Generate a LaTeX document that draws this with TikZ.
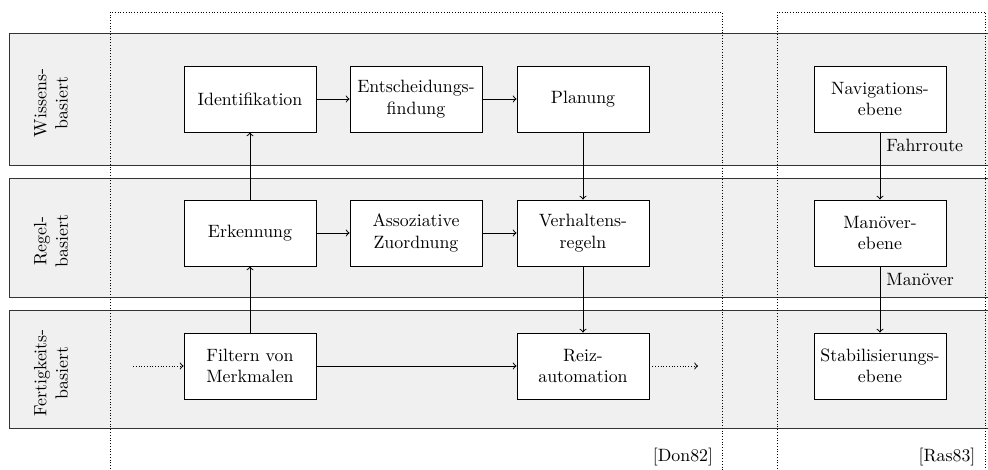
\documentclass[tikz,border=0pt]{standalone}
\begin{document}
\begin{tikzpicture}[x=0.5606pt,y=-0.5606pt,
  band/.style={fill=black!6,draw=black!80,line width=0.5pt},
  block/.style={draw,fill=white,line width=0.55pt,minimum width=74pt,minimum height=37pt,align=center,inner sep=2pt},
  flow/.style={->,line width=0.55pt},
  frame/.style={densely dotted,line width=0.55pt},
  lanelabel/.style={rotate=90,align=center},
  edgelabel/.style={anchor=north west,pos=0}]
\useasboundingbox (0,0) rectangle (988,470);
\clip (0,0) rectangle (988,470);

% behaviour levels
\draw[band] (9,33) rectangle (1000,165);
\draw[band] (9,178) rectangle (1000,297);
\draw[band] (9,310) rectangle (1000,428);
\node[lanelabel] (lk) at (51,103) {Wissens-\\basiert};
\node[lanelabel] (lr) at (51,241) {Regel-\\basiert};
\node[lanelabel] (lf) at (51,373) {Fertigkeits-\\basiert};

% model frames
\draw[frame] (110,480) -- (110,12) -- (722,12) -- (722,480);
\draw[frame] (777,480) -- (777,12) -- (985,12) -- (985,480);
\node (don) at (683,457) {[Don82]};
\node (ras) at (947,457) {[Ras83]};

% Rasmussen model
\node[block] (ident) at (250,99) {Identifikation};
\node[block] (ents) at (416,99) {Entscheidungs-\\findung};
\node[block] (plan) at (583,99) {Planung};
\node[block] (erk) at (250,233) {Erkennung};
\node[block] (asso) at (416,233) {Assoziative\\Zuordnung};
\node[block] (verh) at (583,233) {Verhaltens-\\regeln};
\node[block] (filt) at (250,366) {Filtern von\\Merkmalen};
\node[block] (reiz) at (583,366) {Reiz-\\automation};
\coordinate (inL) at (133,366);
\coordinate (outR) at (698,366);

\draw[flow] (filt) -- (erk);
\draw[flow] (erk) -- (ident);
\draw[flow] (ident) -- (ents);
\draw[flow] (ents) -- (plan);
\draw[flow] (plan) -- (verh);
\draw[flow] (erk) -- (asso);
\draw[flow] (asso) -- (verh);
\draw[flow] (verh) -- (reiz);
\draw[flow] (filt) -- (reiz);
\draw[flow,densely dotted] (inL) -- (filt);
\draw[flow,densely dotted] (reiz) -- (outR);

% Donges levels
\node[block] (nav) at (880,99) {Navigations-\\ebene};
\node[block] (man) at (880,233) {Manöver-\\ebene};
\node[block] (stab) at (880,366) {Stabilisierungs-\\ebene};
\draw[flow] (nav) -- node[edgelabel] {Fahrroute} (man);
\draw[flow] (man) -- node[edgelabel] {Manöver} (stab);
\end{tikzpicture}
\end{document}
